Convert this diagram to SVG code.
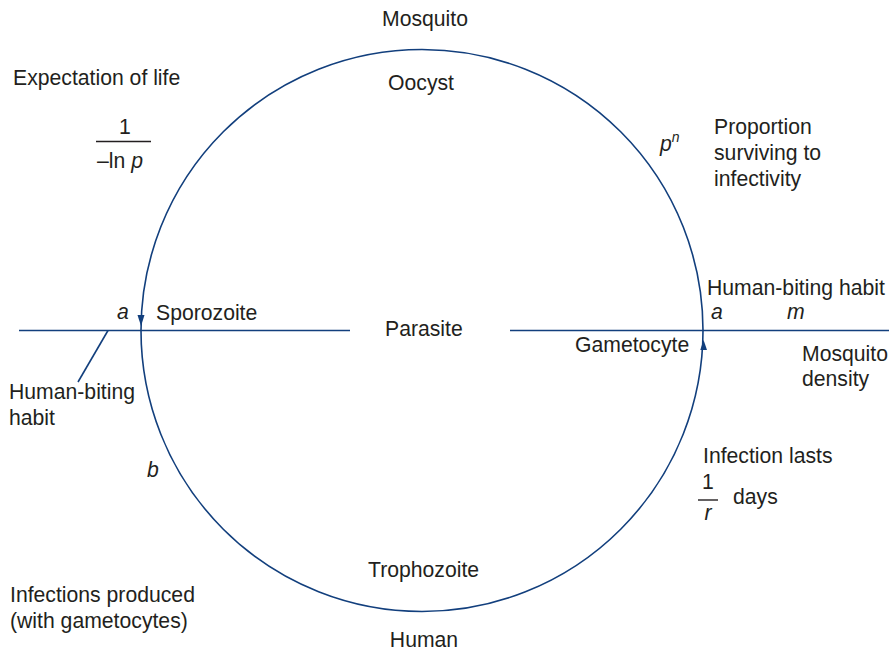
<svg xmlns="http://www.w3.org/2000/svg" width="889" height="650" viewBox="0 0 889 650">
<style>
text{font-family:"Liberation Sans",Arial,Helvetica,sans-serif;font-size:21.2px;fill:#231f20}
.i{font-style:italic}
.ln{fill:none;stroke:#123f7d;stroke-width:1.6}
.fr{fill:none;stroke:#231f20;stroke-width:1.4}
.ah{fill:#123f7d;stroke:none}
.m{text-anchor:middle}
</style>
<rect width="889" height="650" fill="#ffffff"/>
<g id="connectors">
<circle class="ln" cx="422" cy="330.5" r="281"/>
<line class="ln" x1="19" y1="330.5" x2="350" y2="330.5"/>
<line class="ln" x1="510" y1="330.5" x2="889" y2="330.5"/>
<line class="ln" x1="108" y1="330.5" x2="78" y2="382"/>
<polygon class="ah" points="141,326 137.5,315 144.5,315"/>
<polygon class="ah" points="703.6,340 700.3,350 707,350"/>
</g>
<g id="mosquito"><text x="425" y="26" class="m">Mosquito</text></g>
<g id="oocyst"><text x="421" y="90" class="m">Oocyst</text></g>
<g id="expectation">
<text x="13" y="85">Expectation of life</text>
<text x="125" y="134" class="m">1</text>
<line class="fr" x1="96" y1="141.5" x2="151" y2="141.5"/>
<text x="97" y="168">–ln <tspan class="i">p</tspan></text>
</g>
<g id="proportion">
<text x="660" y="151" class="i">p<tspan dy="-9" font-size="14">n</tspan></text>
<text x="714" y="134">Proportion</text>
<text x="714" y="160">surviving to</text>
<text x="714" y="186">infectivity</text>
</g>
<g id="sporozoite">
<text x="117" y="319" class="i">a</text>
<text x="156" y="320">Sporozoite</text>
</g>
<g id="parasite"><text x="385" y="336">Parasite</text></g>
<g id="gametocyte">
<text x="707" y="295">Human-biting habit</text>
<text x="711" y="319" class="i">a</text>
<text x="787" y="319" class="i">m</text>
<text x="575" y="352">Gametocyte</text>
<text x="802" y="361">Mosquito</text>
<text x="802" y="386">density</text>
</g>
<g id="human-biting-left">
<text x="9" y="399">Human-biting</text>
<text x="9" y="425">habit</text>
</g>
<g id="b-label"><text x="147" y="477" class="i">b</text></g>
<g id="infection-lasts">
<text x="703" y="463">Infection lasts</text>
<text x="708" y="489" class="m">1</text>
<line class="fr" x1="698" y1="500" x2="718" y2="500"/>
<text x="708" y="520" class="m i">r</text>
<text x="733" y="504">days</text>
</g>
<g id="trophozoite"><text x="368" y="577">Trophozoite</text></g>
<g id="human"><text x="424" y="647" class="m">Human</text></g>
<g id="infections-produced">
<text x="10" y="602">Infections produced</text>
<text x="10" y="628">(with gametocytes)</text>
</g>
</svg>
